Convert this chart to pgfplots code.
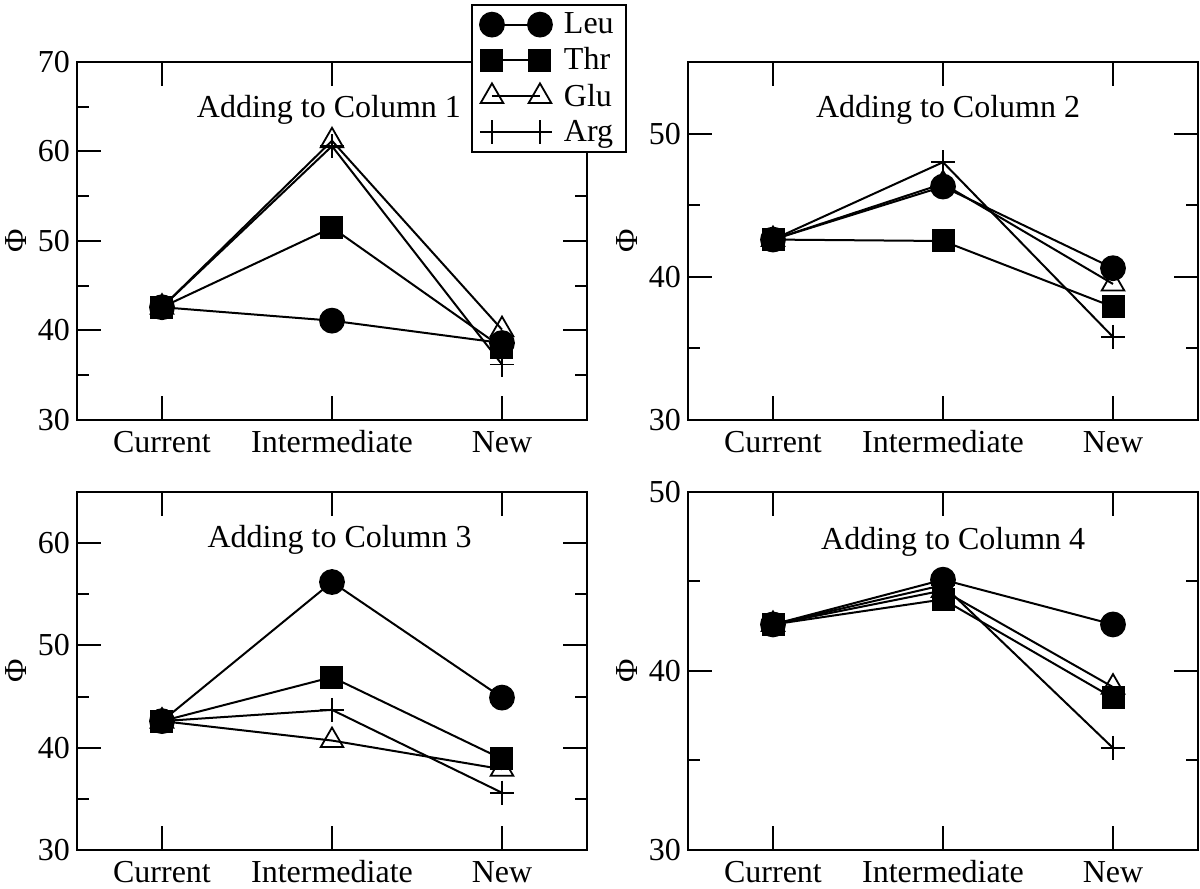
\documentclass[border=0pt]{standalone}
\usepackage{fontspec}
\setmainfont{Liberation Serif}
\usepackage{pgfplots}
\usepackage{pgfplotstable}
\pgfplotsset{compat=1.18}

\pgfplotstableread{
x Leu Thr Glu Arg
0 42.6 42.6 42.6 42.6
1 41.1 51.5 61.2 60.6
2 38.6 38.1 40.1 36.2
}\tA
\pgfplotstableread{
x Leu Thr Glu Arg
0 42.6 42.6 42.6 42.6
1 46.3 42.5 46.5 48.0
2 40.6 37.9 39.5 35.8
}\tB
\pgfplotstableread{
x Leu Thr Glu Arg
0 42.6 42.6 42.6 42.6
1 56.2 46.9 40.7 43.7
2 44.9 38.9 37.9 35.6
}\tC
\pgfplotstableread{
x Leu Thr Glu Arg
0 42.6 42.6 42.6 42.6
1 45.1 44.0 44.5 44.8
2 42.6 38.5 39.1 35.7
}\tD

\newcommand{\fs}{\fontsize{16}{18}\selectfont}

\pgfplotsset{
  panel/.style={
    scale only axis, width=255pt, height=179pt,
    xmin=-0.5, xmax=2.5, xtick={0,1,2},
    xticklabels={Current,Intermediate,New},
    tick align=inside, major tick length=12pt, minor tick length=6pt,
    minor y tick num=1,
    axis line style={line width=1pt},
    every tick/.style={line width=1pt, black},
    tick label style={font=\fs},
    xticklabel style={text height=11pt, text depth=0pt, yshift=-1.5pt},
    /pgf/number format/assume math mode=true,
    ylabel={Φ}, ylabel style={font=\fs},
    ylabel shift=-1pt,
    every axis plot/.append style={black, line width=1pt, mark options={solid, line width=0.9pt}},
    legend image code/.code={\draw[##1] plot coordinates {(0pt,0pt) (24pt,0pt)};},
  },
  sLeu/.style={mark=*, mark size=6pt},
  sThr/.style={mark=square*, mark size=5.3pt},
  sGlu/.style={mark=triangle, mark size=6.5pt},
  sArg/.style={mark=+, mark size=6pt},
}

\begin{document}
\begin{tikzpicture}
\useasboundingbox (0,0) rectangle (600pt,444.5pt);

% Panel 1
\begin{axis}[panel, at={(38.5pt,234.5pt)}, anchor=south west,
  ymin=30, ymax=70, ytick={30,40,50,60,70},
  legend style={at={(0.7725,1.163)}, anchor=north west, draw=black, line width=1pt,
    fill=white, font=\fs, inner xsep=4pt, inner ysep=2pt, row sep=1.5pt,
    /tikz/every odd column/.append style={column sep=4pt}},
  legend cell align=left]
\addplot[sLeu] table[x=x,y=Leu]{\tA};
\addplot[sThr] table[x=x,y=Thr]{\tA};
\addplot[sGlu] table[x=x,y=Glu]{\tA};
\addplot[sArg] table[x=x,y=Arg]{\tA};
\legend{Leu,Thr,Glu,Arg}
\node[font=\fs] at (rel axis cs:0.494,0.865) {Adding to Column 1};
\end{axis}

% Panel 2
\begin{axis}[panel, at={(344pt,234.5pt)}, anchor=south west,
  ymin=30, ymax=55, ytick={30,40,50}]
\addplot[sLeu] table[x=x,y=Leu]{\tB};
\addplot[sThr] table[x=x,y=Thr]{\tB};
\addplot[sGlu] table[x=x,y=Glu]{\tB};
\addplot[sArg] table[x=x,y=Arg]{\tB};
\node[font=\fs] at (rel axis cs:0.51,0.865) {Adding to Column 2};
\end{axis}

% Panel 3
\begin{axis}[panel, at={(38.5pt,19.5pt)}, anchor=south west,
  ymin=30, ymax=65, ytick={30,40,50,60}]
\addplot[sLeu] table[x=x,y=Leu]{\tC};
\addplot[sThr] table[x=x,y=Thr]{\tC};
\addplot[sGlu] table[x=x,y=Glu]{\tC};
\addplot[sArg] table[x=x,y=Arg]{\tC};
\node[font=\fs] at (rel axis cs:0.515,0.865) {Adding to Column 3};
\end{axis}

% Panel 4
\begin{axis}[panel, at={(344pt,19.5pt)}, anchor=south west,
  ymin=30, ymax=50, ytick={30,40,50}]
\addplot[sLeu] table[x=x,y=Leu]{\tD};
\addplot[sThr] table[x=x,y=Thr]{\tD};
\addplot[sGlu] table[x=x,y=Glu]{\tD};
\addplot[sArg] table[x=x,y=Arg]{\tD};
\node[font=\fs] at (rel axis cs:0.52,0.862) {Adding to Column 4};
\end{axis}
\end{tikzpicture}
\end{document}
